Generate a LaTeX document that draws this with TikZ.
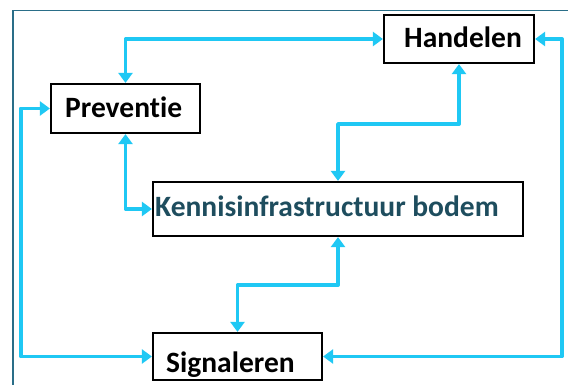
\documentclass[tikz,border=0pt]{standalone}
\usepackage{fontspec}
\setmainfont[Ligatures={NoCommon,NoDiscretionary,NoRare,NoHistoric}]{Carlito}
\usetikzlibrary{arrows.meta}
\definecolor{conncol}{HTML}{1FC8F4}
\definecolor{framecol}{HTML}{2A6E88}
\definecolor{kbcol}{HTML}{1E4D5E}
\tikzset{
  boxnode/.style={draw=black, line width=2.2pt, fill=white, inner sep=0pt},
  lbl/.style={font=\fontsize{29.5}{31}\selectfont\bfseries, inner sep=0pt, anchor=base west},
  conn/.style={draw=conncol, line width=3.8pt, line join=round,
    {Triangle[length=10pt,width=14pt]}-{Triangle[length=10pt,width=14pt]}},
}
\begin{document}
\begin{tikzpicture}[x=1pt,y=-1pt]
\useasboundingbox (0,0) rectangle (568,385);
\clip (0,0) rectangle (568,385);
\fill[white] (0,0) rectangle (568,385);
\draw[framecol, line width=1.5pt] (13,10.5) rectangle (600,420);
% boxes
\node[boxnode, minimum width=149pt, minimum height=49pt] (prev) at (125.5,108.5) {};
\node[boxnode, minimum width=150pt, minimum height=48pt] (hand) at (459,39) {};
\node[boxnode, minimum width=370pt, minimum height=54pt] (kb) at (338,209) {};
\node[boxnode, minimum width=169pt, minimum height=47pt] (sig) at (237.5,356.5) {};
% labels
\node[lbl] (tprev) at (65,118) {Preventie};
\node[lbl] (thand) at (404,48) {Handelen};
\node[lbl, text=kbcol] (tkb) at (155,217) {Kennisinfrastructuur bodem};
\node[lbl] (tsig) at (166,372) {Signaleren};
% connectors
\draw[conn] (prev.north) |- (hand.west);
\draw[conn] (prev.south) |- (kb.west);
\draw[conn] (hand.south) -- ++(0,60) -| (kb.north);
\draw[conn] (kb.south) -- ++(0,48) -| (sig.north);
\draw[conn] (sig.west) -- ++(-131,0) |- (prev.west);
\draw[conn] (hand.east) -- ++(27,0) |- (sig.east);
\end{tikzpicture}
\end{document}
